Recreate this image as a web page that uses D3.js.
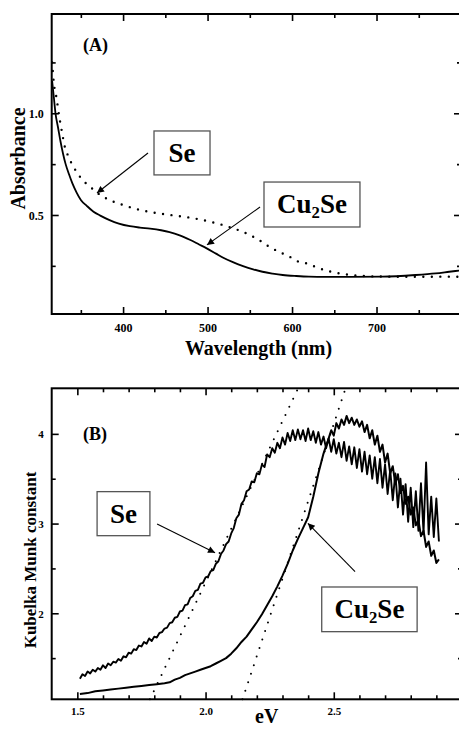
<!DOCTYPE html>
<html><head><meta charset="utf-8">
<script src="https://cdn.jsdelivr.net/npm/d3@7"></script>
<style>
body{margin:0;background:#fff}
svg{display:block}
text{font-family:"Liberation Serif","Times New Roman",serif;font-weight:bold;fill:#000}
</style>
</head><body>
<svg id="c" width="459" height="729"></svg>
<script>
// ---------- Panel A data: absorbance vs wavelength ----------
const cu2seAbs = [[316,1.16],[318,1.08],[320,1.00],[323,0.93],[326,0.86],[329,0.80],[332,0.75],[336,0.70],[340,0.655],[345,0.61],[350,0.574],[357,0.545],[365,0.516],[373,0.497],[384,0.475],[395,0.458],[408,0.445],[420,0.438],[432,0.433],[445,0.425],[455,0.416],[467,0.400],[479,0.378],[490,0.355],[499,0.336],[510,0.31],[518,0.291],[530,0.268],[542,0.249],[554,0.233],[565,0.221],[577,0.212],[589,0.205],[605,0.2],[620,0.197],[640,0.196],[667,0.196],[707,0.197],[746,0.205],[770,0.213],[786,0.221],[800,0.228]];
const seAbs = [[316,1.25],[318,1.15],[321,1.08],[325,0.97],[328,0.90],[331,0.836],[335,0.79],[339,0.754],[344,0.718],[349,0.688],[355,0.66],[361,0.639],[370,0.607],[380,0.582],[390,0.563],[400,0.549],[410,0.536],[420,0.525],[432,0.515],[450,0.503],[471,0.492],[487,0.481],[503,0.467],[517,0.452],[530,0.435],[540,0.42],[550,0.402],[562,0.374],[573,0.344],[585,0.318],[597,0.295],[608,0.27],[617,0.262],[632,0.238],[645,0.222],[656,0.213],[670,0.205],[684,0.2],[711,0.197],[747,0.196],[778,0.197],[800,0.196]];
const aXMajor = [400,500,600,700];
const aXMinor = [350,450,550,650,750];
const aYMajor = [0.5,1.0];
const aYMinor = [0.25,0.75,1.25];

// ---------- Panel B data: Kubelka-Munk vs eV ----------
const seKM = [[1.51,1.27],[1.52,1.32],[1.53,1.30],[1.54,1.35],[1.55,1.33],[1.56,1.37],[1.57,1.35],[1.58,1.39],[1.59,1.37],[1.60,1.42],[1.61,1.39],[1.62,1.44],[1.63,1.42],[1.64,1.46],[1.65,1.45],[1.66,1.49],[1.67,1.47],[1.68,1.52],[1.69,1.51],[1.70,1.56],[1.71,1.55],[1.72,1.60],[1.73,1.59],[1.74,1.64],[1.75,1.63],[1.76,1.68],[1.77,1.66],[1.78,1.72],[1.79,1.69],[1.80,1.74],[1.81,1.73],[1.82,1.78],[1.83,1.79],[1.84,1.83],[1.85,1.84],[1.86,1.89],[1.87,1.90],[1.88,1.95],[1.89,1.96],[1.90,2.02],[1.91,2.03],[1.92,2.09],[1.93,2.10],[1.94,2.17],[1.95,2.19],[1.96,2.25],[1.97,2.26],[1.98,2.33],[1.99,2.34],[2.00,2.40],[2.01,2.41],[2.02,2.47],[2.03,2.48],[2.04,2.55],[2.05,2.58],[2.06,2.66],[2.07,2.70],[2.08,2.77],[2.09,2.80],[2.10,2.89],[2.11,2.95],[2.12,3.06],[2.13,3.10],[2.14,3.22],[2.15,3.26],[2.16,3.36],[2.17,3.38],[2.18,3.47],[2.19,3.46],[2.20,3.56],[2.21,3.55],[2.22,3.66],[2.23,3.63],[2.24,3.77],[2.25,3.74],[2.26,3.84],[2.27,3.79],[2.28,3.90],[2.29,3.84],[2.30,3.96],[2.31,3.88],[2.32,4.01],[2.33,3.92],[2.34,4.04],[2.35,3.93],[2.36,4.05],[2.37,3.94],[2.38,4.04],[2.39,3.92],[2.40,4.06],[2.41,3.93],[2.42,4.03],[2.43,3.90],[2.44,4.02],[2.45,3.88],[2.46,3.97],[2.47,3.84],[2.48,3.95],[2.49,3.80],[2.50,3.94],[2.51,3.78],[2.52,3.90],[2.53,3.74],[2.54,3.91],[2.55,3.70],[2.56,3.86],[2.57,3.66],[2.58,3.85],[2.59,3.62],[2.60,3.83],[2.61,3.58],[2.62,3.80],[2.63,3.55],[2.64,3.76],[2.65,3.50],[2.66,3.74],[2.67,3.45],[2.68,3.72],[2.69,3.40],[2.70,3.66],[2.71,3.33],[2.72,3.60],[2.73,3.26],[2.74,3.56],[2.75,3.18],[2.76,3.50],[2.77,3.10],[2.78,3.44],[2.79,3.02],[2.80,3.40],[2.81,2.96],[2.82,3.36],[2.83,2.92],[2.84,3.45],[2.85,2.90],[2.86,3.68],[2.87,2.88],[2.88,3.30],[2.89,2.85],[2.90,3.28],[2.91,2.80]];
const cu2seKM = [[1.51,1.10],[1.54,1.11],[1.57,1.13],[1.60,1.14],[1.63,1.15],[1.66,1.16],[1.69,1.17],[1.72,1.18],[1.75,1.19],[1.78,1.20],[1.81,1.21],[1.84,1.22],[1.86,1.23],[1.88,1.26],[1.90,1.28],[1.92,1.31],[1.94,1.33],[1.96,1.35],[1.98,1.37],[2.00,1.39],[2.02,1.41],[2.04,1.44],[2.06,1.47],[2.08,1.50],[2.10,1.55],[2.12,1.61],[2.14,1.68],[2.16,1.74],[2.18,1.82],[2.20,1.90],[2.22,1.99],[2.24,2.09],[2.26,2.19],[2.28,2.30],[2.30,2.42],[2.32,2.55],[2.34,2.70],[2.36,2.83],[2.38,2.95],[2.40,3.07],[2.42,3.30],[2.44,3.56],[2.46,3.78],[2.48,3.95],[2.49,4.04],[2.50,3.98],[2.51,4.12],[2.52,4.06],[2.53,4.16],[2.54,4.10],[2.55,4.20],[2.56,4.12],[2.57,4.18],[2.58,4.10],[2.59,4.16],[2.60,4.08],[2.61,4.14],[2.62,4.02],[2.63,4.10],[2.64,3.95],[2.65,4.04],[2.66,3.88],[2.67,3.98],[2.68,3.80],[2.69,3.88],[2.70,3.68],[2.71,3.78],[2.72,3.56],[2.73,3.64],[2.74,3.44],[2.75,3.55],[2.76,3.34],[2.77,3.42],[2.78,3.22],[2.79,3.30],[2.80,3.10],[2.81,3.18],[2.82,2.98],[2.83,3.04],[2.84,2.86],[2.85,2.92],[2.86,2.74],[2.87,2.80],[2.88,2.64],[2.89,2.70],[2.90,2.56],[2.91,2.60]];
const seTangent = [[1.783,1.041],[2.361,4.508]];
const cu2seTangent = [[2.144,1.041],[2.546,4.508]];
const bXMajor = [1.5,2.0,2.5];
const bXMinor = [1.6,1.7,1.8,1.9,2.1,2.2,2.3,2.4,2.6,2.7,2.8,2.9];
const bYMajor = [2,3,4];
const bYMinor = [1.5,2.5,3.5];

// annotations (data units): box [x0,x1,yTop,yBottom], arrow from -> to
const annA = [
  {label:"Se", box:[436.6,502.9,0.913,0.697], from:[429.5,0.805], to:[369.1,0.608]},
  {label:"Cu2Se", box:[566.8,680.4,0.662,0.441], from:[562.1,0.539], to:[499.3,0.353]}
];
const annB = [
  {label:"Se", box:[1.577,1.783,3.356,2.865], from:[1.811,2.996], to:[2.037,2.676]},
  {label:"Cu2Se", box:[2.453,2.825,2.293,1.795], from:[2.583,2.464], to:[2.399,3.003]}
];

const svg = d3.select("#c");
svg.append("rect").attr("width",459).attr("height",729).attr("fill","#fff");
const defs = svg.append("defs");
defs.append("marker").attr("id","arr").attr("viewBox","0 0 10 10").attr("refX",10).attr("refY",5)
  .attr("markerWidth",9).attr("markerHeight",7).attr("markerUnits","userSpaceOnUse").attr("orient","auto")
  .append("path").attr("d","M0,0 L10,5 L0,10 z").attr("fill","#000");

function panel(o){
  const g = svg.append("g");
  const x = o.x, y = o.y;
  const [x0,x1] = x.range();
  const [yb,yt] = y.range(); // bottom, top
  o.curves.forEach(c=>{
    g.append("path").datum(c.data)
      .attr("d", d3.line().curve(c.smooth ? d3.curveMonotoneX : d3.curveLinear).x(d=>x(d[0])).y(d=>y(d[1])))
      .attr("fill","none").attr("stroke","#000")
      .attr("stroke-width",c.w).attr("stroke-linejoin","round")
      .attr("stroke-linecap", c.dash ? "round" : "butt")
      .attr("stroke-dasharray", c.dash || null);
  });
  const mk = (axisFn, vals, size, tx, ty) => {
    const a = g.append("g").attr("transform",`translate(${tx},${ty})`)
      .call(axisFn.tickValues(vals).tickSize(-size).tickSizeOuter(0).tickFormat(""));
    a.select(".domain").remove();
    a.selectAll("line").attr("stroke","#000").attr("stroke-width",1.6);
    return a;
  };
  mk(d3.axisBottom(x), o.xMajor, 7, 0, yb);
  mk(d3.axisBottom(x), o.xMinor, 4, 0, yb);
  mk(d3.axisTop(x), o.xMajor, 7, 0, yt);
  mk(d3.axisTop(x), o.xMinor, 4, 0, yt);
  mk(d3.axisLeft(y), o.yMajor, 7, x0, 0);
  mk(d3.axisLeft(y), o.yMinor, 4, x0, 0);
  mk(d3.axisRight(y), o.yMajor, 7, x1, 0);
  mk(d3.axisRight(y), o.yMinor, 4, x1, 0);
  const xl = g.append("g").attr("transform",`translate(0,${yb})`)
    .call(d3.axisBottom(x).tickValues(o.xMajor).tickSize(0).tickFormat(o.xFmt));
  xl.select(".domain").remove();
  xl.selectAll("text").attr("y",o.xLabOff).attr("dy",null).style("font-size",o.tickFont+"px");
  const yl = g.append("g").attr("transform",`translate(${x0},0)`)
    .call(d3.axisLeft(y).tickValues(o.yMajor).tickSize(0).tickFormat(o.yFmt));
  yl.select(".domain").remove();
  yl.selectAll("text").attr("x",-8).attr("dy","0.35em").style("font-size",o.tickFont+"px");
  g.append("rect").attr("x",x0).attr("y",yt).attr("width",x1-x0).attr("height",yb-yt)
    .attr("fill","none").attr("stroke","#000").attr("stroke-width",2);
  o.ann.forEach(a=>{
    const bx0=x(a.box[0]), bx1=x(a.box[1]), by0=y(a.box[2]), by1=y(a.box[3]);
    g.append("rect").attr("x",bx0).attr("y",by0).attr("width",bx1-bx0).attr("height",by1-by0)
      .attr("fill","#fff").attr("stroke","#555").attr("stroke-width",1.3);
    const cx=(bx0+bx1)/2, cy=(by0+by1)/2, fs=o.boxFont;
    const t = g.append("text").attr("x",cx).attr("y",cy+fs*0.33).attr("text-anchor","middle").style("font-size",fs+"px");
    if(a.label==="Cu2Se"){
      t.append("tspan").text("Cu");
      t.append("tspan").text("2").style("font-size",(fs*0.62)+"px").attr("dy",fs*0.18);
      t.append("tspan").text("Se").attr("dy",-fs*0.18);
    } else t.text(a.label);
    g.append("line").attr("x1",x(a.from[0])).attr("y1",y(a.from[1]))
      .attr("x2",x(a.to[0])).attr("y2",y(a.to[1]))
      .attr("stroke","#000").attr("stroke-width",1.1).attr("marker-end","url(#arr)");
  });
  g.append("text").attr("x",o.tag[0]).attr("y",o.tag[1]).style("font-size","18px").text(o.tagText);
  g.append("text").attr("x",o.xTitle[0]).attr("y",o.xTitle[1]).attr("text-anchor","middle")
    .style("font-size",o.xTitleFont+"px").text(o.xTitleText);
  g.append("text").attr("transform",`translate(${o.yTitle[0]},${o.yTitle[1]}) rotate(-90)`)
    .attr("text-anchor","middle").style("font-size",o.yTitleFont+"px").text(o.yTitleText);
}

panel({
  x: d3.scaleLinear().domain([315.5,800]).range([51.7,461]),
  y: d3.scaleLinear().domain([0.0133,1.488]).range([314,14]),
  curves:[{data:cu2seAbs,w:1.8,smooth:true},{data:seAbs,w:2.4,dash:"0,8.5",smooth:true}],
  xMajor:aXMajor, xMinor:aXMinor, yMajor:aYMajor, yMinor:aYMinor,
  xFmt:d3.format("d"), yFmt:d3.format(".1f"), xLabOff:18, tickFont:12,
  ann:annA, boxFont:27,
  tag:[83,50.5], tagText:"(A)",
  xTitle:[258.5,355], xTitleText:"Wavelength (nm)", xTitleFont:20,
  yTitle:[25,158.5], yTitleText:"Absorbance", yTitleFont:20
});

panel({
  x: d3.scaleLinear().domain([1.4,3.0]).range([51.7,462]),
  y: d3.scaleLinear().domain([1.041,4.508]).range([699.3,388.3]),
  curves:[{data:seKM,w:1.9},{data:cu2seKM,w:2.0},{data:seTangent,w:2,dash:"0,9"},{data:cu2seTangent,w:2,dash:"0,9"}],
  xMajor:bXMajor, xMinor:bXMinor, yMajor:bYMajor, yMinor:bYMinor,
  xFmt:d3.format(".1f"), yFmt:d3.format("d"), xLabOff:16, tickFont:11,
  ann:annB, boxFont:27,
  tag:[83,440], tagText:"(B)",
  xTitle:[266.7,723], xTitleText:"eV", xTitleFont:20,
  yTitle:[36,560], yTitleText:"Kubelka Munk constant", yTitleFont:17
});
</script>
</body></html>
